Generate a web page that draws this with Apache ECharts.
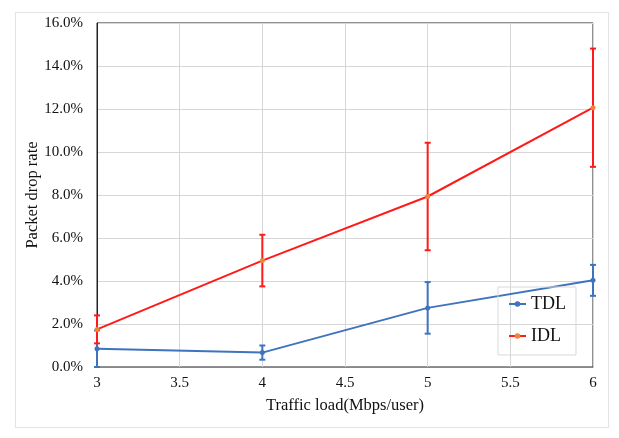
<!DOCTYPE html>
<html>
<head>
<meta charset="utf-8">
<script src="https://cdn.jsdelivr.net/npm/echarts@6/dist/echarts.min.js"></script>
<style>html,body{margin:0;padding:0;background:#fff;}#c{width:619px;height:438px;}</style>
</head>
<body>
<div id="c"></div>
<script>
var xValues = [3, 4, 5, 6];
var tdlValues = [0.85, 0.67, 2.75, 4.03];
var tdlErrors = [0.85, 0.33, 1.2, 0.72];
var idlValues = [1.75, 4.95, 7.93, 12.06];
var idlErrors = [0.65, 1.2, 2.5, 2.75];
var seriesNames = ['TDL', 'IDL'];

var FONT = 'Liberation Serif';
var blue = '#3F73BD';
var red = '#FF1A1A';

function pairs(vals) { return xValues.map(function (x, i) { return [x, vals[i]]; }); }
function errData(vals, errs) { return xValues.map(function (x, i) { return [x, vals[i] - errs[i], vals[i] + errs[i]]; }); }
function errRender(color) {
  return function (params, api) {
    var x = api.value(0);
    var lo = api.coord([x, api.value(1)]);
    var hi = api.coord([x, api.value(2)]);
    var cap = 3;
    var style = { stroke: color, lineWidth: 2, fill: null };
    return {
      type: 'group',
      children: [
        { type: 'line', shape: { x1: lo[0], y1: lo[1], x2: hi[0], y2: hi[1] }, style: style },
        { type: 'line', shape: { x1: lo[0] - cap, y1: lo[1], x2: lo[0] + cap, y2: lo[1] }, style: style },
        { type: 'line', shape: { x1: hi[0] - cap, y1: hi[1], x2: hi[0] + cap, y2: hi[1] }, style: style }
      ]
    };
  };
}

var chart = echarts.init(document.getElementById('c'), null, { renderer: 'canvas' });
chart.setOption({
  animation: false,
  backgroundColor: '#fff',
  graphic: [{
    type: 'rect', left: 13, top: 10, shape: { width: 593, height: 415 },
    style: { fill: null, stroke: '#e3e3e3', lineWidth: 1 }, silent: true, z: -10
  }],
  grid: { left: 97, top: 23, right: 26, bottom: 71, show: true, borderColor: '#222', borderWidth: 1 },
  legend: {
    data: seriesNames,
    orient: 'vertical',
    left: 498, top: 287,
    itemWidth: 17, itemHeight: 7,
    itemGap: 14,
    padding: [8, 10, 10, 10],
    borderColor: '#d9d9d9', borderWidth: 1,
    textStyle: { fontFamily: FONT, fontSize: 18, color: '#111' }
  },
  xAxis: {
    type: 'value', min: 3, max: 6, interval: 0.5,
    name: 'Traffic load(Mbps/user)', nameLocation: 'middle', nameGap: 30,
    nameTextStyle: { fontFamily: FONT, fontSize: 16.5, color: '#111' },
    axisLine: { show: true, lineStyle: { color: '#888', width: 1 } },
    axisTick: { show: false },
    axisLabel: { fontFamily: FONT, fontSize: 15, color: '#111', margin: 9 },
    splitLine: { show: true, lineStyle: { color: '#d6d6d6', width: 1 } }
  },
  yAxis: {
    type: 'value', min: 0, max: 16, interval: 2,
    name: 'Packet drop rate', nameLocation: 'middle', nameGap: 56, nameMoveOverlap: false,
    nameTextStyle: { fontFamily: FONT, fontSize: 16.5, color: '#111' },
    axisLine: { show: true, lineStyle: { color: '#222', width: 1 } },
    axisTick: { show: false },
    axisLabel: { fontFamily: FONT, fontSize: 15, color: '#111', margin: 14, formatter: function (v) { return v.toFixed(1) + '%'; } },
    splitLine: { show: true, lineStyle: { color: '#d6d6d6', width: 1 } }
  },
  series: [
    {
      name: 'TDL', type: 'line', data: pairs(tdlValues),
      symbol: 'circle', symbolSize: 5,
      lineStyle: { color: blue, width: 2 }, itemStyle: { color: blue }, z: 3
    },
    {
      name: 'IDL', type: 'line', data: pairs(idlValues),
      symbol: 'circle', symbolSize: 5,
      lineStyle: { color: red, width: 2 }, itemStyle: { color: '#F0853A' }, z: 3
    },
    {
      name: 'TDL-err', type: 'custom', data: errData(tdlValues, tdlErrors),
      renderItem: errRender(blue), encode: { x: 0, y: [1, 2] }, z: 2
    },
    {
      name: 'IDL-err', type: 'custom', data: errData(idlValues, idlErrors),
      renderItem: errRender(red), encode: { x: 0, y: [1, 2] }, z: 2
    }
  ]
});
</script>
</body>
</html>
